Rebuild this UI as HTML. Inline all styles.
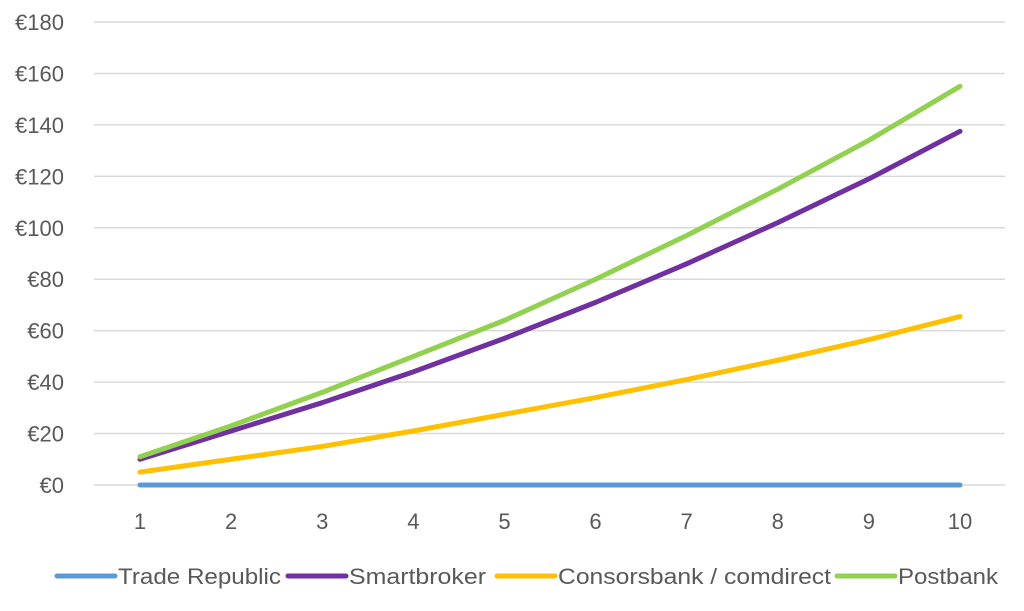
<!DOCTYPE html>
<html><head><meta charset="utf-8"><style>
body{margin:0;background:#fff;}
svg text{font-family:"Liberation Sans",sans-serif;fill:#595959;}
</style></head><body>
<svg id="chart" width="1024" height="606" xmlns="http://www.w3.org/2000/svg">
<g id="grid"></g><g id="yt"></g><g id="xt"></g><g id="lines"></g><g id="legend"></g>
</svg>
<script>
const categories=[1,2,3,4,5,6,7,8,9,10];
const yTicks=[0,20,40,60,80,100,120,140,160,180];
const seriesNames=["Trade Republic","Smartbroker","Consorsbank / comdirect","Postbank"];
const tradeRepublic=[0,0,0,0,0,0,0,0,0,0];
const smartbroker=[10,21,32,44,57,71,86,102,119,137.5];
const consors=[5,10,15,21,27.5,34,41,48.5,56.5,65.5];
const postbank=[11,23,36,50,64,80,97,115,134,155];
const colors=["#5b9bd5","#7030a0","#ffc000","#92d050"];
const ns="http://www.w3.org/2000/svg";
const x=i=>140+(i)*(820/9);
const y=v=>485-v*(463/180);
function mk(tag,attrs,parent){const e=document.createElementNS(ns,tag);for(const k in attrs)e.setAttribute(k,attrs[k]);parent.appendChild(e);return e;}
const grid=document.getElementById('grid'),yt=document.getElementById('yt'),xt=document.getElementById('xt'),lines=document.getElementById('lines'),leg=document.getElementById('legend');
yTicks.forEach(v=>{
 const l=mk('line',{x1:94,x2:1005,y1:y(v),y2:y(v),stroke:'#d9d9d9','stroke-width':1.5},grid);
 
 
 const t=mk('text',{x:64,y:y(v)+8,'text-anchor':'end','font-size':22},yt);t.textContent='€'+v;
 
 
});
categories.forEach((c,i)=>{
 const t=mk('text',{x:x(i),y:529,'text-anchor':'middle','font-size':22},xt);t.textContent=c;
 
 
});
[tradeRepublic,smartbroker,consors,postbank].forEach((s,k)=>{
 const p=mk('polyline',{points:s.map((v,i)=>x(i)+','+y(v)).join(' '),fill:'none',stroke:colors[k],'stroke-width':5,'stroke-linecap':'round','stroke-linejoin':'round'},lines);
 
 
});
const legX=[57,288,497,837];
const legW=[163,137,273,100];
seriesNames.forEach((n,k)=>{
 const l=mk('line',{x1:legX[k],x2:legX[k]+58,y1:576,y2:576,stroke:colors[k],'stroke-width':5,'stroke-linecap':'round'},leg);
 
 
 const t=mk('text',{x:legX[k]+61,y:584,'font-size':22,textLength:legW[k],lengthAdjust:'spacingAndGlyphs'},leg);t.textContent=n;
 
 
});
</script>
</body></html>
